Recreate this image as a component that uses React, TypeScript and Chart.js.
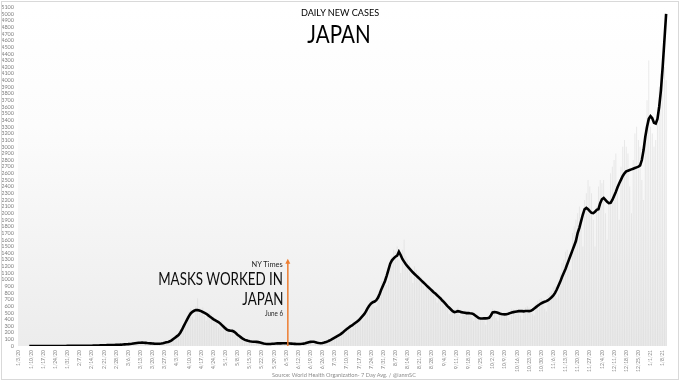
import React, { useEffect, useRef } from 'react';
import { Chart, registerables } from 'chart.js';

Chart.register(...registerables);

// Weekly tick labels (every 7th day starting 1/3/20)
const TICK_LABELS = [
  '1/3/20', '1/10/20', '1/17/20', '1/24/20', '1/31/20', '2/7/20', '2/14/20', '2/21/20', '2/28/20',
  '3/6/20', '3/13/20', '3/20/20', '3/27/20', '4/3/20', '4/10/20', '4/17/20', '4/24/20', '5/1/20',
  '5/8/20', '5/15/20', '5/22/20', '5/29/20', '6/5/20', '6/12/20', '6/19/20', '6/26/20', '7/3/20',
  '7/10/20', '7/17/20', '7/24/20', '7/31/20', '8/7/20', '8/14/20', '8/21/20', '8/28/20', '9/4/20',
  '9/11/20', '9/18/20', '9/25/20', '10/2/20', '10/9/20', '10/16/20', '10/23/20', '10/30/20', '11/6/20',
  '11/13/20', '11/20/20', '11/27/20', '12/4/20', '12/11/20', '12/18/20', '12/25/20', '1/1/21', '1/8/21',
];

// Daily new cases (one row per week, starting Friday 1/3/20)
const DAILY_CASES = [
  0, 0, 0, 0, 0, 0, 1,
  0, 0, 0, 0, 0, 1, 0,
  0, 0, 1, 0, 0, 2, 1,
  1, 0, 1, 1, 2, 1, 2,
  3, 1, 2, 2, 3, 2, 2,
  3, 2, 1, 2, 3, 2, 4,
  5, 6, 4, 5, 8, 9, 12,
  12, 14, 10, 12, 15, 14, 18,
  20, 18, 15, 18, 24, 26, 30,
  32, 30, 28, 35, 45, 50, 52,
  55, 60, 45, 40, 42, 48, 44,
  40, 42, 30, 28, 35, 40, 48,
  55, 60, 58, 65, 90, 120, 140,
  160, 180, 170, 230, 330, 380, 450,
  520, 560, 440, 400, 600, 720, 580,
  560, 580, 450, 380, 500, 520, 480,
  440, 420, 360, 280, 340, 380, 330,
  290, 270, 230, 180, 240, 250, 200,
  190, 160, 120, 80, 100, 95, 90,
  85, 75, 60, 50, 60, 65, 55,
  50, 40, 30, 25, 28, 35, 40,
  40, 42, 35, 30, 38, 45, 48,
  45, 42, 38, 30, 34, 35, 32,
  35, 40, 30, 28, 42, 55, 70,
  68, 70, 60, 45, 50, 48, 45,
  50, 60, 55, 58, 85, 110, 120,
  140, 160, 130, 140, 200, 230, 280,
  290, 300, 260, 250, 340, 370, 400,
  420, 450, 380, 410, 560, 620, 680,
  700, 690, 580, 600, 780, 860, 980,
  1000, 1050, 920, 980, 1260, 1350, 1450,
  1420, 1500, 1300, 1100, 1450, 1600, 1350,
  1300, 1250, 1050, 950, 1200, 1150, 1100,
  1050, 1030, 900, 850, 950, 920, 880,
  870, 850, 720, 650, 780, 730, 700,
  700, 650, 560, 480, 560, 520, 550,
  560, 580, 450, 400, 520, 540, 520,
  520, 500, 430, 380, 460, 470, 450,
  430, 420, 380, 320, 420, 460, 500,
  560, 540, 420, 380, 520, 510, 500,
  500, 490, 420, 380, 560, 550, 540,
  560, 550, 460, 400, 560, 580, 600,
  580, 560, 480, 460, 640, 680, 700,
  720, 690, 560, 520, 760, 800, 820,
  880, 900, 720, 780, 1100, 1250, 1300,
  1420, 1450, 1200, 1150, 1700, 1800, 1900,
  2000, 2100, 1900, 1500, 2200, 2300, 2500,
  2400, 2300, 1900, 1500, 2100, 2400, 2500,
  2450, 2500, 2000, 1600, 2200, 2600, 2700,
  2800, 2900, 2300, 1900, 2700, 3000, 3100,
  3000, 2900, 2400, 2000, 2800, 3200, 3300,
  3100, 3000, 2500, 2200, 3300, 3700, 4300,
  3300, 3200, 3000, 3100, 3600, 3900, 4100,
  4300, 4200, 4000,
];

// 7-day average (one row per week, starting Friday 1/3/20)
const AVG_7DAY = [
  null, null, null, null, null, null, 0,
  0, 0, 0, 0, 0, 0, 0,
  0, 0, 0, 1, 1, 1, 1,
  1, 1, 1, 1, 1, 1, 1,
  2, 2, 2, 2, 2, 2, 2,
  2, 2, 2, 2, 2, 2, 3,
  4, 5, 6, 7, 8, 9, 10,
  11, 12, 13, 14, 14, 15, 16,
  17, 18, 19, 20, 22, 24, 26,
  28, 31, 34, 38, 42, 45, 48,
  50, 52, 50, 47, 44, 42, 40,
  38, 36, 35, 34, 35, 38, 42,
  48, 55, 62, 70, 85, 105, 125,
  145, 165, 200, 245, 300, 350, 400,
  450, 490, 515, 530, 540, 540, 535,
  525, 512, 500, 485, 465, 445, 425,
  405, 390, 375, 360, 340, 315, 290,
  265, 245, 235, 230, 228, 215, 195,
  170, 150, 130, 110, 95, 85, 78,
  72, 68, 65, 64, 62, 58, 52,
  45, 38, 33, 30, 30, 31, 33,
  35, 37, 39, 40, 40, 41, 42,
  42, 40, 38, 36, 34, 32, 30,
  30, 31, 33, 36, 42, 50, 58,
  62, 64, 63, 58, 50, 45, 42,
  45, 52, 60, 70, 82, 95, 110,
  125, 140, 155, 170, 190, 210, 235,
  255, 275, 295, 310, 330, 350, 370,
  390, 420, 450, 480, 520, 570, 610,
  640, 660, 670, 690, 730, 790, 860,
  920, 980, 1060, 1150, 1240, 1290, 1320,
  1345, 1360, 1420, 1370, 1310, 1270, 1230,
  1200, 1170, 1140, 1110, 1085, 1060, 1035,
  1010, 985, 960, 935, 910, 885, 860,
  835, 810, 790, 765, 740, 715, 685,
  660, 630, 600, 575, 550, 525, 510,
  515, 525, 520, 510, 505, 500, 495,
  495, 492, 490, 480, 460, 440, 420,
  415, 415, 418, 416, 418, 425, 460,
  505, 510, 508, 500, 490, 482, 478,
  476, 478, 485, 495, 505, 510, 515,
  520, 525, 528, 525, 522, 526, 528,
  526, 530, 545, 565, 585, 605, 625,
  640, 655, 665, 675, 690, 710, 735,
  760, 800, 850, 910, 970, 1040, 1100,
  1160, 1230, 1300, 1370, 1440, 1510, 1580,
  1700, 1780, 1880, 1980, 2060, 2080, 2060,
  2030, 2005, 2000, 2020, 2050, 2060, 2150,
  2210, 2230, 2200, 2170, 2150, 2155, 2200,
  2260, 2320, 2390, 2450, 2505, 2560, 2600,
  2630, 2640, 2650, 2660, 2670, 2680, 2690,
  2700, 2720, 2800, 2950, 3150, 3300, 3420,
  3460, 3430, 3360, 3350, 3420, 3600, 3850,
  4200, 4600, 5000,
];

const Y_MAX = 5100;
const Y_STEP = 100;
const ARROW_DATE = '6/6/20';
const ARROW_TOP_VALUE = 1300;

function buildDayLabels(count: number): string[] {
  const out: string[] = [];
  const d = new Date(2020, 0, 3);
  for (let i = 0; i < count; i++) {
    out.push(`${d.getMonth() + 1}/${d.getDate()}/${String(d.getFullYear()).slice(2)}`);
    d.setDate(d.getDate() + 1);
  }
  return out;
}

const bgPlugin = {
  id: 'plotBg',
  beforeDatasetsDraw(chart: any) {
    const { ctx, chartArea } = chart;
    const g = ctx.createLinearGradient(0, chartArea.top, 0, chartArea.bottom);
    g.addColorStop(0, '#ffffff');
    g.addColorStop(0.35, '#fcfcfc');
    g.addColorStop(1, '#ececec');
    ctx.save();
    ctx.fillStyle = g;
    ctx.fillRect(chartArea.left, chartArea.top, chartArea.right - chartArea.left, chartArea.bottom - chartArea.top);
    ctx.restore();
  },
};

const arrowPlugin = {
  id: 'arrow',
  afterDatasetsDraw(chart: any) {
    const labels: string[] = chart.data.labels;
    const idx = labels.indexOf(ARROW_DATE);
    if (idx < 0) return;
    const x = chart.scales.x.getPixelForValue(idx);
    const y0 = chart.scales.y.getPixelForValue(0);
    const y1 = chart.scales.y.getPixelForValue(ARROW_TOP_VALUE);
    const ctx = chart.ctx;
    ctx.save();
    ctx.strokeStyle = '#ED7D31';
    ctx.fillStyle = '#ED7D31';
    ctx.lineWidth = 1.5;
    ctx.beginPath();
    ctx.moveTo(x, y0);
    ctx.lineTo(x, y1 + 3);
    ctx.stroke();
    ctx.beginPath();
    ctx.moveTo(x, y1 - 1);
    ctx.lineTo(x - 2.5, y1 + 4);
    ctx.lineTo(x + 2.5, y1 + 4);
    ctx.closePath();
    ctx.fill();
    ctx.restore();
  },
};

export default function App() {
  const ref = useRef<HTMLCanvasElement>(null);

  useEffect(() => {
    const labels = buildDayLabels(AVG_7DAY.length);
    const chart = new Chart(ref.current!, {
      type: 'bar',
      data: {
        labels,
        datasets: [
          {
            type: 'line',
            label: '7-Day Avg',
            data: AVG_7DAY as any,
            borderColor: '#000000',
            borderWidth: 2.6,
            pointRadius: 0,
            tension: 0,
            order: 1,
            spanGaps: false,
          } as any,
          {
            type: 'bar',
            label: 'Daily',
            data: DAILY_CASES,
            backgroundColor: 'rgba(214,214,214,0.55)',
            barPercentage: 0.5,
            categoryPercentage: 1,
            order: 2,
          },
        ],
      },
      options: {
        responsive: false,
        animation: false,
        devicePixelRatio: 1,
        layout: { padding: { left: 0, right: 13, top: 1, bottom: 0 } },
        plugins: { legend: { display: false }, tooltip: { enabled: false }, title: { display: false } },
        scales: {
          x: {
            type: 'category',
            offset: true,
            grid: { display: false, drawTicks: false },
            border: { display: false },
            ticks: {
              autoSkip: false,
              maxRotation: 90,
              minRotation: 90,
              padding: 4,
              color: '#808080',
              font: { family: 'Lato, sans-serif', size: 5 },
              callback: (_v: any, i: number) => (i % 7 === 0 ? TICK_LABELS[i / 7] : null),
            },
            afterFit: (s: any) => { s.height = 35; },
          },
          y: {
            min: 0,
            max: Y_MAX,
            grid: { display: false, drawTicks: false },
            border: { display: false },
            ticks: {
              stepSize: Y_STEP,
              padding: 4,
              color: '#808080',
              font: { family: 'Lato, sans-serif', size: 5.5 },
              autoSkip: false,
              callback: (v: any) => String(v),
            },
            afterFit: (s: any) => { s.width = 18; },
          },
        },
      },
      plugins: [bgPlugin, arrowPlugin],
    });
    return () => chart.destroy();
  }, []);

  const txt = (extra: React.CSSProperties): React.CSSProperties => ({
    position: 'absolute',
    whiteSpace: 'nowrap',
    height: 20,
    lineHeight: '20px',
    ...extra,
  });

  return (
    <div style={{ position: 'fixed', left: 0, top: 0, width: 680, height: 381, background: '#fff', fontFamily: 'Lato, sans-serif', overflow: 'hidden' }}>
      <canvas ref={ref} width={680} height={381} style={{ position: 'absolute', left: 0, top: 0 }} />
      <div style={{ position: 'absolute', left: 1, top: 1, width: 676, height: 377, border: '1px solid #d9d9d9', pointerEvents: 'none' }} />
      <div style={txt({ left: 0, width: 680, top: 1.7, textAlign: 'center', fontSize: 9.8, color: '#000', transform: 'scaleX(0.93)', transformOrigin: '340px 10px' })}>DAILY NEW CASES</div>
      <div style={txt({ left: 0, width: 678, top: 23.8, textAlign: 'center', fontSize: 24.5, color: '#000', transform: 'scaleX(0.84)', transformOrigin: '339px 10px' })}>JAPAN</div>
      <div style={txt({ right: 397, top: 254, textAlign: 'right', fontSize: 8.3, color: '#262626', transform: 'scaleX(0.9)', transformOrigin: 'right center' })}>NY Times</div>
      <div style={txt({ right: 397, top: 269, textAlign: 'right', fontSize: 16.7, color: '#0d0d0d', transform: 'scaleX(0.8)', transformOrigin: 'right center' })}>MASKS WORKED IN</div>
      <div style={txt({ right: 397, top: 289, textAlign: 'right', fontSize: 16.7, color: '#0d0d0d', transform: 'scaleX(0.8)', transformOrigin: 'right center' })}>JAPAN</div>
      <div style={txt({ right: 397, top: 302.5, textAlign: 'right', fontSize: 7, color: '#262626', transform: 'scaleX(0.9)', transformOrigin: 'right center' })}>June 6</div>
      <div style={txt({ left: 0, width: 688, top: 364.5, textAlign: 'center', fontSize: 5.6, color: '#8c8c8c' })}>Source: World Health Organization- 7 Day Avg. / @ianmSC</div>
    </div>
  );
}
